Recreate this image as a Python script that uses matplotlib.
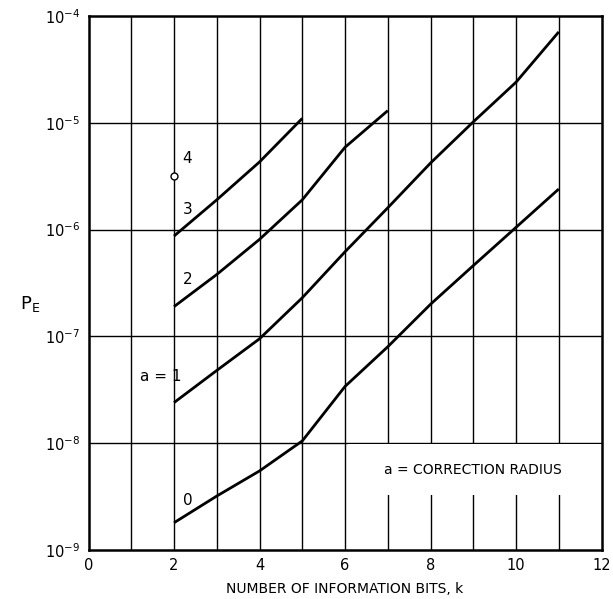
import numpy as np
import matplotlib
matplotlib.use('Agg')
import matplotlib.pyplot as plt
from matplotlib.patches import Rectangle

# error probability vs number of information bits, one curve per correction radius
k0 = [2, 3, 4, 5, 6, 7, 8, 9, 10, 11]
pe0 = [1.8e-9, 3.2e-9, 5.5e-9, 1.05e-8, 3.4e-8, 8.0e-8, 2.0e-7, 4.6e-7, 1.05e-6, 2.4e-6]
k1 = [2, 3, 4, 5, 6, 7, 8, 9, 10, 11]
pe1 = [2.4e-8, 4.8e-8, 9.5e-8, 2.3e-7, 6.2e-7, 1.6e-6, 4.2e-6, 1.02e-5, 2.4e-5, 7.1e-5]
k2 = [2, 3, 4, 5, 6, 7]
pe2 = [1.9e-7, 3.8e-7, 8.1e-7, 1.9e-6, 5.9e-6, 1.3e-5]
k3 = [2, 3, 4, 5]
pe3 = [8.7e-7, 1.9e-6, 4.3e-6, 1.1e-5]
k4 = [2]
pe4 = [3.2e-6]

plt.rcParams['font.family'] = ['DejaVu Sans']

fig = plt.figure(figsize=(6.13, 5.99), dpi=100)
ax = fig.add_axes([0.1444, 0.0818, 0.8369, 0.8915])

ax.set_yscale('log')
ax.set_xlim(0, 12)
ax.set_ylim(1e-9, 1e-4)

# grid: every integer k, every decade
for x in range(1, 12):
    ax.axvline(x, color='black', lw=1.0, zorder=1)
for e in range(-8, -4):
    ax.axhline(10.0 ** e, color='black', lw=1.0, zorder=1)

# blank panel for the note in the lower right
ax.add_patch(Rectangle((6.08, 3.3e-9), 5.92, 1e-8 - 3.3e-9 - 1.5e-10,
                       facecolor='white', edgecolor='none', zorder=2))

for kk, pe in [(k0, pe0), (k1, pe1), (k2, pe2), (k3, pe3)]:
    ax.plot(kk, pe, color='black', lw=2.0, zorder=3, solid_capstyle='butt')
ax.plot(k4, pe4, 'o', ms=5, mfc='white', mec='black', mew=1.0, zorder=4)

for s in ax.spines.values():
    s.set_linewidth(1.8)

ax.set_xticks([0, 2, 4, 6, 8, 10, 12])
ax.set_yticks([1e-9, 1e-8, 1e-7, 1e-6, 1e-5, 1e-4])
ax.set_yticklabels([r'$10^{-%d}$' % n for n in [9, 8, 7, 6, 5, 4]])
ax.minorticks_off()
ax.tick_params(axis='y', length=0, labelsize=10.5, pad=6)
ax.tick_params(axis='x', length=0, labelsize=10.5, pad=6)

ax.text(-1.37, 2.0e-7, r'P$_\mathrm{E}$', fontsize=13, ha='center', va='center',
        clip_on=False)
ax.set_xlabel('NUMBER OF INFORMATION BITS, k', fontsize=10, labelpad=6)

ax.text(2.2, 4.6e-6, '4', fontsize=11, ha='left', va='center', zorder=5)
ax.text(2.2, 1.55e-6, '3', fontsize=11, ha='left', va='center', zorder=5)
ax.text(2.2, 3.4e-7, '2', fontsize=11, ha='left', va='center', zorder=5)
ax.text(1.7, 4.2e-8, 'a = 1', fontsize=11, ha='center', va='center', zorder=5)
ax.text(2.2, 2.9e-9, '0', fontsize=11, ha='left', va='center', zorder=5)
ax.text(9.0, 5.6e-9, 'a = CORRECTION RADIUS', fontsize=10, ha='center', va='center', zorder=5)

fig.savefig('out.png', dpi=100)
